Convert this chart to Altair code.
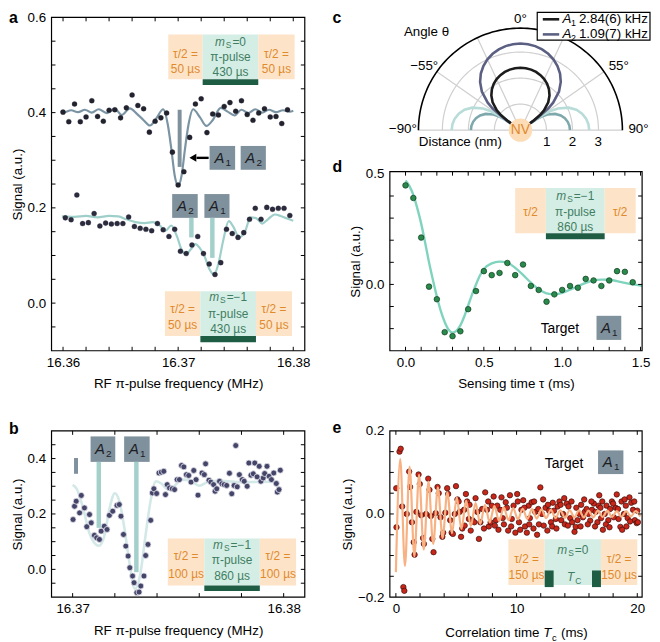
import altair as alt
import pandas as pd

FONT = "Liberation Sans"
AX_FS = 13.5
BOX_FS = 12
ORANGE_TXT = "#e08a2c"
GREEN_TXT = "#3f7d62"
PEACH = "#fde4c9"
MINT = "#d5eee5"
DARKGREEN = "#1f5c44"
BOXGREY = "#7f919d"
STEM = "#a3d0cb"

# ================= data =================
# ---- panel a : two RF spectra ----
A_TOP_F = [16.3600, 16.3605, 16.3610, 16.3615, 16.3620, 16.3625, 16.3630, 16.3635, 16.3640, 16.3645,
           16.3650, 16.3655, 16.3660, 16.3665, 16.3670, 16.3675, 16.3680, 16.3685, 16.3690, 16.3695,
           16.3700, 16.3705, 16.3710, 16.3715, 16.3720, 16.3725, 16.3730, 16.3735, 16.3740, 16.3745,
           16.3750, 16.3755, 16.3760, 16.3765, 16.3770, 16.3775, 16.3780, 16.3785, 16.3790, 16.3795]
A_TOP_V = [0.401, 0.381, 0.418, 0.381, 0.391, 0.425, 0.392, 0.382, 0.405, 0.406,
           0.389, 0.410, 0.437, 0.415, 0.408, 0.359, 0.382, 0.389, 0.399, 0.317,
           0.248, 0.276, 0.348, 0.418, 0.429, 0.358, 0.397, 0.395, 0.413, 0.421,
           0.403, 0.425, 0.396, 0.384, 0.399, 0.408, 0.391, 0.392, 0.377, 0.406]
A_BOT_F = [16.3602, 16.3607, 16.3612, 16.3617, 16.3622, 16.3627, 16.3632, 16.3637, 16.3642, 16.3647,
           16.3652, 16.3657, 16.3662, 16.3667, 16.3672, 16.3677, 16.3682, 16.3687, 16.3692, 16.3697,
           16.3702, 16.3707, 16.3712, 16.3717, 16.3722, 16.3727, 16.3732, 16.3737, 16.3742, 16.3747,
           16.3752, 16.3757, 16.3762, 16.3767, 16.3772, 16.3777, 16.3782, 16.3787, 16.3792, 16.3797]
A_BOT_V = [0.179, 0.175, 0.227, 0.167, 0.169, 0.188, 0.162, 0.168, 0.166, 0.167,
           0.167, 0.181, 0.161, 0.157, 0.155, 0.152, 0.167, 0.154, 0.140, 0.155,
           0.109, 0.104, 0.122, 0.140, 0.104, 0.082, 0.060, 0.085, 0.155, 0.146,
           0.138, 0.148, 0.176, 0.199, 0.176, 0.201, 0.197, 0.199, 0.199, 0.184]
A_TOP_FIT_F = [16.3598, 16.3601, 16.3607, 16.3613, 16.3619, 16.3625, 16.3631, 16.3638, 16.3645, 16.3651,
               16.3658, 16.3664, 16.3670, 16.36755, 16.3681, 16.3687, 16.3691, 16.3694, 16.3697, 16.3700,
               16.3703, 16.3706, 16.3709, 16.3713, 16.3719, 16.37245, 16.3730, 16.3737, 16.3743, 16.3749,
               16.3755, 16.3761, 16.3767, 16.3773, 16.3779, 16.3785, 16.3791, 16.3797, 16.3800]
A_TOP_FIT_V = [0.404, 0.401, 0.405, 0.401, 0.406, 0.400, 0.407, 0.399, 0.408, 0.395,
               0.409, 0.398, 0.384, 0.373, 0.388, 0.407, 0.375, 0.325, 0.268, 0.246,
               0.268, 0.325, 0.375, 0.407, 0.390, 0.372, 0.384, 0.410, 0.402, 0.394,
               0.406, 0.399, 0.407, 0.400, 0.406, 0.401, 0.405, 0.402, 0.404]
A_BOT_FIT_F = [16.3599, 16.3610, 16.3620, 16.3630, 16.3640, 16.3648, 16.3655, 16.3663, 16.3671, 16.3678,
               16.3684, 16.3689, 16.3694, 16.3699, 16.3703, 16.3707, 16.3711, 16.3715, 16.3719, 16.3723,
               16.3727, 16.3731, 16.3735, 16.3739, 16.3744, 16.3748, 16.3753, 16.3758, 16.3763, 16.3768,
               16.3773, 16.3778, 16.3784, 16.3789, 16.3794, 16.3800]
A_BOT_FIT_V = [0.182, 0.181, 0.183, 0.180, 0.183, 0.182, 0.176, 0.170, 0.168, 0.170,
               0.163, 0.152, 0.163, 0.140, 0.112, 0.103, 0.113, 0.124, 0.115, 0.098,
               0.072, 0.060, 0.083, 0.130, 0.172, 0.160, 0.138, 0.150, 0.180, 0.178,
               0.167, 0.176, 0.186, 0.183, 0.178, 0.173]

# ---- panel b : high resolution spectrum ----
B_F = [16.37002, 16.37009, 16.37017, 16.37033, 16.37041, 16.37056, 16.37067, 16.37080, 16.37088, 16.37103,
       16.37114, 16.37127, 16.37135, 16.37150, 16.37163, 16.37174, 16.37190, 16.37210, 16.37221, 16.37229,
       16.37241, 16.37252, 16.37263, 16.37271, 16.37284, 16.37291, 16.37304, 16.37315, 16.37323, 16.37338,
       16.37346, 16.37357, 16.37370, 16.37378, 16.37385, 16.37398, 16.37409, 16.37420, 16.37432, 16.37440,
       16.37448, 16.37459, 16.37472, 16.37483, 16.37495, 16.37506, 16.37516, 16.37527, 16.37539, 16.37550,
       16.37561, 16.37574, 16.37585, 16.37594, 16.37613, 16.37624, 16.37630, 16.37646, 16.37655, 16.37668,
       16.37675, 16.37683, 16.37696, 16.37707, 16.37718, 16.37730, 16.37743, 16.37754, 16.37765, 16.37773,
       16.37780, 16.37790, 16.37804, 16.37813, 16.37827, 16.37835, 16.37845, 16.37856, 16.37863, 16.37874,
       16.37884, 16.37892, 16.37903, 16.37910, 16.37921, 16.37931, 16.37942, 16.37953, 16.37965, 16.37970,
       16.37978, 16.37984]
B_V = [0.180, 0.228, 0.246, 0.204, 0.267, 0.222, 0.154, 0.198, 0.168, 0.123,
       0.114, 0.108, 0.138, 0.156, 0.144, 0.195, 0.210, 0.231, 0.234, 0.192,
       0.126, 0.084, 0.048, 0.006, -0.024, -0.048, -0.084, -0.082, -0.060, -0.024,
       0.050, 0.090, 0.177, 0.276, 0.291, 0.274, 0.348, 0.351, 0.354, 0.270,
       0.306, 0.294, 0.291, 0.288, 0.324, 0.324, 0.375, 0.370, 0.342, 0.339,
       0.315, 0.357, 0.324, 0.268, 0.348, 0.342, 0.381, 0.322, 0.315, 0.306,
       0.282, 0.291, 0.318, 0.309, 0.306, 0.303, 0.347, 0.273, 0.303, 0.447,
       0.298, 0.342, 0.324, 0.318, 0.300, 0.384, 0.340, 0.345, 0.384, 0.334,
       0.372, 0.318, 0.330, 0.346, 0.372, 0.336, 0.324, 0.348, 0.310, 0.279,
       0.288, 0.358]
B_FIT_F = [16.37000, 16.37020, 16.37050, 16.37080, 16.37110, 16.37125, 16.37150, 16.37175, 16.37200, 16.37220,
           16.37245, 16.37270, 16.37295, 16.37320, 16.37345, 16.37370, 16.37395, 16.37420, 16.37450, 16.37480,
           16.37520, 16.37560, 16.37600, 16.37640, 16.37700, 16.37800, 16.37900, 16.37980]
B_FIT_V = [0.305, 0.290, 0.220, 0.130, 0.090, 0.085, 0.120, 0.220, 0.275, 0.250,
           0.150, 0.020, -0.070, -0.020, 0.120, 0.250, 0.318, 0.310, 0.290, 0.300,
           0.324, 0.320, 0.302, 0.315, 0.320, 0.315, 0.316, 0.315]

# ---- panel c : polar coupling maps ----
C_GRID_R = [1, 2, 3]
C_OUTER_R = 3.92
C_SPOKES = [-55, -25, 25, 55]
C_R_A1 = 2.40
C_R_A2 = 3.33
MAIN_ANG = [0, 5, 10, 15, 20, 25, 30, 35, 40, 45, 50, 52, 54, 54.5, 54.7, 54.7356]
MAIN_S = [1.0, 0.9962, 0.9847, 0.9653, 0.9377, 0.9013, 0.8550, 0.7972, 0.7245, 0.6300,
          0.4929, 0.4093, 0.2632, 0.1798, 0.0961, 0.0]
SIDE_ANG = [54.7356, 55, 56, 58, 60, 65, 70, 75, 80, 85, 90]
SIDE_S = [0.0, 0.1867, 0.3140, 0.4286, 0.5, 0.6145, 0.6870, 0.7366, 0.7691, 0.7877, 0.7937]

# ---- panel d : Ramsey-type oscillation ----
D_T = [0.00, 0.05, 0.10, 0.15, 0.20, 0.25, 0.30, 0.35, 0.40, 0.45,
       0.50, 0.55, 0.60, 0.65, 0.70, 0.75, 0.80, 0.85, 0.90, 0.95,
       1.00, 1.05, 1.10, 1.15, 1.20, 1.25, 1.30, 1.35, 1.40, 1.45]
D_V = [0.448, 0.391, 0.212, -0.010, -0.067, -0.216, -0.234, -0.212, -0.112, -0.030,
       0.060, 0.042, 0.052, 0.097, 0.042, 0.090, -0.007, -0.025, -0.078, -0.045,
       -0.025, -0.007, -0.015, 0.025, 0.018, -0.007, 0.018, 0.060, 0.057, 0.010]
D_FIT_T = [0.00, 0.025, 0.05, 0.075, 0.10, 0.125, 0.15, 0.175, 0.20, 0.225,
           0.25, 0.275, 0.30, 0.325, 0.35, 0.375, 0.40, 0.425, 0.45, 0.475,
           0.50, 0.55, 0.60, 0.65, 0.70, 0.75, 0.80, 0.85, 0.90, 0.95,
           1.00, 1.05, 1.10, 1.15, 1.20, 1.25, 1.30, 1.35, 1.40, 1.45, 1.51]
D_FIT_V = [0.47, 0.445, 0.405, 0.345, 0.275, 0.19, 0.10, 0.02, -0.055, -0.12,
           -0.17, -0.205, -0.218, -0.21, -0.185, -0.145, -0.095, -0.045, 0.0, 0.04,
           0.07, 0.095, 0.103, 0.098, 0.075, 0.043, 0.008, -0.022, -0.040, -0.045,
           -0.038, -0.024, -0.008, 0.007, 0.018, 0.022, 0.021, 0.015, 0.007, 0.0, -0.006]

# ---- panel e : correlation signal ----
E_T = [0.03, 0.05, 0.30, 0.40, 0.52, 0.62, 0.70, 0.90, 1.10, 1.18,
       1.33, 1.48, 1.55, 1.70, 1.88, 1.98, 2.10, 2.25, 2.32, 2.50,
       2.68, 2.78, 2.90, 3.02, 3.12, 3.30, 3.45, 3.55, 3.70, 3.85,
       3.92, 4.10, 4.25, 4.33, 4.50, 4.62, 4.72, 4.88, 4.98, 5.10,
       5.28, 5.40, 5.50, 5.65, 5.80, 5.90, 6.05, 6.20, 6.35, 6.60,
       6.75, 6.88, 7.00, 7.15, 7.40, 7.55, 7.70, 7.85, 7.95, 8.10,
       8.30, 8.50, 8.65, 8.75, 8.95, 9.10, 9.30, 9.45, 9.60, 9.75,
       9.90, 10.05, 10.20, 10.40, 10.55, 10.70, 10.85, 11.00, 11.10, 11.25,
       11.40, 11.55, 11.70, 11.85, 11.97, 12.10, 12.25, 12.40, 12.55, 12.70,
       12.85, 13.00, 13.10, 13.25, 13.40, 13.55, 13.70, 13.85, 14.00, 14.15,
       14.30, 14.45, 14.60, 14.80, 14.90, 15.05, 15.20, 15.35, 15.50, 15.65,
       15.80, 15.95, 16.10, 16.25, 16.40, 16.55, 16.70, 16.85, 17.00, 17.15,
       17.30, 17.45, 17.60, 17.75, 17.90, 18.05, 18.20, 18.30, 18.45, 18.60,
       18.75, 18.90, 19.05, 19.20, 19.35, 19.50, 19.65, 19.80, 19.95, 20.00,
       5.20, 5.70, 6.10, 6.50, 7.30, 7.65, 8.20, 8.40, 8.85, 9.20,
       9.55, 10.10, 10.30, 10.65, 11.05, 11.45, 11.80, 12.20, 12.60, 12.95,
       13.30, 13.65, 13.95, 14.25, 14.55, 14.95, 15.30, 15.60, 15.90, 16.20,
       16.50, 16.80, 17.10, 17.40, 17.70, 18.00, 18.40, 18.70, 19.10, 19.40,
       19.75, 20.05, 18.95, 16.95]
E_V = [0.062, -0.032, 0.150, 0.157, 0.018, -0.176, -0.185, 0.000, 0.102, 0.065,
       -0.020, -0.068, -0.098, 0.005, 0.095, 0.072, -0.003, -0.058, -0.072, 0.000,
       0.085, 0.058, -0.005, -0.060, -0.092, 0.002, 0.065, 0.050, -0.008, -0.055,
       -0.045, 0.003, 0.062, 0.048, -0.015, -0.045, -0.048, 0.000, 0.067, 0.035,
       0.005, -0.055, -0.035, 0.010, 0.048, 0.030, -0.012, -0.040, -0.015, 0.038,
       0.005, -0.060, -0.020, 0.012, 0.052, 0.010, -0.030, -0.020, 0.020, 0.042,
       -0.015, -0.038, 0.010, 0.040, -0.025, 0.028, -0.040, 0.045, -0.012, 0.020,
       -0.045, 0.048, -0.020, 0.010, 0.033, -0.030, -0.045, 0.020, -0.010, 0.028,
       -0.035, 0.005, -0.050, -0.025, 0.064, 0.000, -0.028, 0.015, -0.040, 0.008,
       -0.020, 0.027, 0.008, -0.012, 0.018, 0.030, -0.015, 0.000, -0.025, 0.025,
       0.018, -0.010, -0.020, -0.043, -0.031, -0.015, 0.000, 0.022, -0.008, 0.005,
       0.012, 0.000, -0.016, 0.010, 0.025, 0.005, -0.020, 0.045, -0.010, -0.038,
       0.000, 0.020, -0.015, 0.012, 0.030, -0.008, 0.015, 0.047, -0.012, -0.031,
       -0.038, 0.000, 0.020, -0.010, 0.040, 0.027, 0.010, -0.015, -0.022, 0.008,
       0.030, -0.028, 0.022, -0.020, -0.035, 0.030, -0.028, 0.020, -0.010, 0.015,
       -0.030, 0.030, -0.038, 0.015, -0.025, 0.030, 0.012, 0.035, 0.022, -0.030,
       -0.035, 0.022, 0.038, -0.028, 0.030, 0.015, -0.030, 0.035, -0.025, 0.030,
       -0.030, 0.020, 0.030, -0.025, -0.032, 0.025, 0.012, 0.030, -0.030, -0.018,
       0.030, -0.020, 0.035, 0.015]
E_FIT_T = [0.0, 0.36, 0.75, 1.14, 1.53, 1.92, 2.31, 2.70, 3.09, 3.48,
           3.87, 4.26, 4.65, 5.04, 5.43, 5.82, 6.21, 6.60, 6.99, 7.38,
           7.77, 8.16, 8.55, 8.94, 9.33, 9.72, 10.11, 10.50, 10.89, 11.28,
           11.67, 12.06, 12.45, 12.84, 13.23, 13.62, 14.01, 14.40, 14.79, 15.18,
           15.57, 15.96, 16.35, 16.74, 17.13, 17.52, 17.91, 18.30, 18.69, 19.08,
           19.47, 19.86, 20.25]
E_FIT_V = [-0.140, 0.132, -0.125, 0.114, -0.102, 0.094, -0.086, 0.078, -0.072, 0.064,
           -0.058, 0.052, -0.046, 0.040, -0.036, 0.032, -0.029, 0.026, -0.024, 0.022,
           -0.020, 0.019, -0.017, 0.016, -0.015, 0.014, -0.013, 0.013, -0.012, 0.012,
           -0.011, 0.011, -0.010, 0.010, -0.010, 0.009, -0.009, 0.009, -0.008, 0.009,
           -0.008, 0.008, -0.008, 0.008, -0.007, 0.008, -0.007, 0.007, -0.007, 0.007,
           -0.006, 0.007, -0.006]

# ================= helpers =================
AXIS_OF = {}   # id(scale) -> axis spec, so every layer of a panel carries the same axis


def one():
    return pd.DataFrame({"k": [0]})


def XQ(s, f="x"):
    return alt.X(f, type="quantitative", scale=s, axis=AXIS_OF.get(id(s)))


def YQ(s, f="y"):
    return alt.Y(f, type="quantitative", scale=s, axis=AXIS_OF.get(id(s)))


def axis(values, fmt, title, is_x):
    kw = dict(values=values, format=fmt, title=title, domain=False, ticks=False, tickSize=0,
              grid=False, labelFontSize=AX_FS, titleFontSize=AX_FS, labelFont=FONT, titleFont=FONT,
              titleFontWeight="normal", labelColor="black", titleColor="black", labelFlush=False)
    if is_x:
        kw.update(labelPadding=5, titlePadding=8)
    else:
        kw.update(labelPadding=6, titlePadding=3)
    return alt.Axis(**kw)


def line(xv, yv, xs, ys, color, width=2.2, interp="monotone"):
    df = pd.DataFrame({"x": xv, "y": yv})
    return alt.Chart(df).mark_line(color=color, strokeWidth=width, interpolate=interp).encode(
        x=XQ(xs), y=YQ(ys))


def dots(xv, yv, xs, ys, fill, stroke, size, sw):
    df = pd.DataFrame({"x": xv, "y": yv})
    return alt.Chart(df).mark_circle(size=size, fill=fill, stroke=stroke, strokeWidth=sw, opacity=1).encode(
        x=XQ(xs), y=YQ(ys))


def texts(rows, xs, ys, size=BOX_FS, color="black", style="normal", weight="normal",
          align="center", baseline="middle", dx=0, dy=0):
    df = pd.DataFrame(rows, columns=["x", "y", "t"])
    return alt.Chart(df).mark_text(font=FONT, fontSize=size, color=color, fontStyle=style,
                                   fontWeight=weight, align=align, baseline=baseline,
                                   dx=dx, dy=dy).encode(x=XQ(xs), y=YQ(ys), text="t:N")


def rects(rows, xs, ys):
    df = pd.DataFrame(rows, columns=["x", "x2", "y", "y2", "c"])
    return alt.Chart(df).mark_rect().encode(x=XQ(xs), x2="x2:Q", y=YQ(ys), y2="y2:Q",
                                            color=alt.Color("c:N", scale=None))


def vrule(x, y1, y2, xs, ys, color, w):
    df = pd.DataFrame({"x": [x], "y": [y1], "y2": [y2]})
    return alt.Chart(df).mark_rule(color=color, strokeWidth=w).encode(x=XQ(xs), y=YQ(ys), y2="y2:Q")


def hrule(x1, x2, y, xs, ys, color, w):
    df = pd.DataFrame({"x": [x1], "x2": [x2], "y": [y]})
    return alt.Chart(df).mark_rule(color=color, strokeWidth=w).encode(x=XQ(xs), x2="x2:Q", y=YQ(ys))


def ticks(xt, yt, xs, ys, w, h, L=4):
    dx = pd.DataFrame({"x": xt})
    dy = pd.DataFrame({"y": yt})
    r = dict(color="black", strokeWidth=1)
    return [
        alt.Chart(dx).mark_rule(**r).encode(x=XQ(xs), y=alt.value(h), y2=alt.value(h - L)),
        alt.Chart(dx).mark_rule(**r).encode(x=XQ(xs), y=alt.value(0), y2=alt.value(L)),
        alt.Chart(dy).mark_rule(**r).encode(y=YQ(ys), x=alt.value(0), x2=alt.value(L)),
        alt.Chart(dy).mark_rule(**r).encode(y=YQ(ys), x=alt.value(w - L), x2=alt.value(w)),
    ]


def frame(w, h):
    return alt.Chart(one()).mark_rect(fill="white", fillOpacity=0, stroke="black", strokeWidth=1.2).encode(
        x=alt.value(0), x2=alt.value(w), y=alt.value(0), y2=alt.value(h))


def letter(t, x, y):
    return alt.Chart(one()).mark_text(text=t, font=FONT, fontSize=16, fontWeight="bold",
                                      align="left", baseline="alphabetic").encode(
        x=alt.value(x), y=alt.value(y))


W_CH = {"m": 0.833, "=": 0.584, "0": 0.556, "1": 0.556, "−": 0.584}


def ms(x, y, rest, xs, ys):
    wm = 0.833 * BOX_FS + 1
    wsub = 0.667 * 8.5 + 1
    wr = sum(W_CH[ch] for ch in rest) * BOX_FS
    start = -(wm + wsub + wr) / 2
    return [texts([(x, y, "m")], xs, ys, color=GREEN_TXT, style="italic", align="left", dx=start),
            texts([(x, y, "S")], xs, ys, size=8.5, color=GREEN_TXT, align="left", dx=start + wm, dy=3),
            texts([(x, y, rest)], xs, ys, color=GREEN_TXT, align="left", dx=start + wm + wsub)]


def abox(x1, x2, y1, y2, digit, xs, ys):
    cx = (x1 + x2) / 2
    cy = (y1 + y2) / 2
    return [rects([(x1, x2, y1, y2, BOXGREY)], xs, ys),
            texts([(cx, cy, "A")], xs, ys, size=15, color="#1d1d24", style="italic", dx=-3),
            texts([(cx, cy, digit)], xs, ys, size=10, color="#1d1d24", dx=6, dy=5)]


def diagram(xs, ys, xl, xm1, xm2, xr, ytop, ybot, extra, peach_lines, ms_y, ms_rest, mint_lines):
    layers = [rects([(xl, xm1, ybot, ytop, PEACH), (xm1, xm2, ybot, ytop, MINT),
                     (xm2, xr, ybot, ytop, PEACH)], xs, ys)]
    if extra:
        layers.append(rects(extra, xs, ys))
    pl = (xl + xm1) / 2
    pr = (xm2 + xr) / 2
    pm = (xm1 + xm2) / 2
    for t, y in peach_lines:
        layers.append(texts([(pl, y, t), (pr, y, t)], xs, ys, color=ORANGE_TXT))
    layers += ms(pm, ms_y, ms_rest, xs, ys)
    for t, y in mint_lines:
        layers.append(texts([(pm, y, t)], xs, ys, color=GREEN_TXT))
    return layers


# ================= panel a =================
WA, HA = 256, 337
XS_A = alt.Scale(domain=[16.359, 16.381], nice=False, zero=False)
YS_A = alt.Scale(domain=[-0.1, 0.6], nice=False, zero=False)
AXIS_OF[id(XS_A)] = axis([16.36, 16.37, 16.38], ".2f", "RF π-pulse frequency (MHz)", True)
AXIS_OF[id(YS_A)] = axis([0.0, 0.2, 0.4, 0.6], ".1f", "Signal (a.u.)", False)
la = []
la += diagram(XS_A, YS_A, 16.36914, 16.37213, 16.37696, 16.38012, 0.564, 0.470,
              [(16.37213, 16.37696, 0.458, 0.470, DARKGREEN)],
              [("τ/2 =", 0.524), ("50 µs", 0.492)], 0.549, "=0",
              [("π-pulse", 0.516), ("430 µs", 0.485)])
la += diagram(XS_A, YS_A, 16.36885, 16.37193, 16.37676, 16.37989, 0.025, -0.069,
              [(16.37193, 16.37676, -0.082, -0.069, DARKGREEN)],
              [("τ/2 =", -0.013), ("50 µs", -0.047)], 0.012, "=−1",
              [("π-pulse", -0.022), ("430 µs", -0.054)])
la.append(line(A_TOP_FIT_F, A_TOP_FIT_V, XS_A, YS_A, "#7b94a4", 2.2))
la.append(line(A_BOT_FIT_F, A_BOT_FIT_V, XS_A, YS_A, "#9fcfca", 2.2))
la.append(vrule(16.37013, 0.286, 0.406, XS_A, YS_A, BOXGREY, 4))
la.append(hrule(16.3716, 16.37265, 0.305, XS_A, YS_A, "black", 2.4))
la.append(alt.Chart(pd.DataFrame({"x": [16.37128], "y": [0.305]})).mark_point(
    shape="triangle-left", filled=True, color="black", size=65, opacity=1).encode(x=XQ(XS_A), y=YQ(YS_A)))
la += abox(16.37273, 16.37495, 0.280, 0.330, "1", XS_A, YS_A)
la += abox(16.37543, 16.37762, 0.280, 0.330, "2", XS_A, YS_A)
la += abox(16.36948, 16.37170, 0.179, 0.229, "2", XS_A, YS_A)
la += abox(16.37228, 16.37446, 0.179, 0.229, "1", XS_A, YS_A)
la.append(vrule(16.37115, 0.179, 0.138, XS_A, YS_A, STEM, 4.5))
la.append(vrule(16.37297, 0.179, 0.095, XS_A, YS_A, STEM, 4.5))
la.append(dots(A_TOP_F, A_TOP_V, XS_A, YS_A, "#23232f", "#23232f", 26, 0.3))
la.append(dots(A_BOT_F, A_BOT_V, XS_A, YS_A, "#2b2b3d", "#2b2b3d", 26, 0.3))
la += ticks([16.360, 16.362, 16.364, 16.366, 16.368, 16.370, 16.372, 16.374, 16.376, 16.378, 16.380],
            [-0.05, 0.0, 0.05, 0.1, 0.15, 0.2, 0.25, 0.3, 0.35, 0.4, 0.45, 0.5, 0.55],
            XS_A, YS_A, WA, HA)
la.append(frame(WA, HA))
la.append(letter("a", -43, 6))
panel_a = alt.layer(*la).properties(width=WA, height=HA)

# ================= panel b =================
WB, HB = 256, 168
XS_B = alt.Scale(domain=[16.369, 16.381], nice=False, zero=False)
YS_B = alt.Scale(domain=[-0.1, 0.5], nice=False, zero=False)
AXIS_OF[id(XS_B)] = axis([16.37, 16.38], ".2f", "RF π-pulse frequency (MHz)", True)
AXIS_OF[id(YS_B)] = axis([0.0, 0.2, 0.4], ".1f", "Signal (a.u.)", False)
lb = []
lb += diagram(XS_B, YS_B, 16.37451, 16.37624, 16.37887, 16.38059, 0.111, -0.058,
              [(16.37624, 16.37887, -0.078, -0.058, DARKGREEN)],
              [("τ/2 =", 0.048), ("100 µs", -0.018)], 0.087, "=−1",
              [("π-pulse", 0.032), ("860 µs", -0.025)])
lb.append(line(B_FIT_F, B_FIT_V, XS_B, YS_B, "#d2e9e7", 2.6))
lb.append(vrule(16.37016, 0.345, 0.402, XS_B, YS_B, BOXGREY, 4))
lb += abox(16.37085, 16.37202, 0.388, 0.480, "2", XS_B, YS_B)
lb += abox(16.37244, 16.37365, 0.388, 0.480, "1", XS_B, YS_B)
lb.append(vrule(16.37124, 0.388, 0.150, XS_B, YS_B, STEM, 4.5))
lb.append(vrule(16.37302, 0.388, -0.010, XS_B, YS_B, STEM, 4.5))
lb.append(dots(B_F, B_V, XS_B, YS_B, "#45456a", "#e4e4ee", 36, 0.8))
lb += ticks([16.370, 16.372, 16.374, 16.376, 16.378, 16.380],
            [-0.05, 0.0, 0.05, 0.1, 0.15, 0.2, 0.25, 0.3, 0.35, 0.4, 0.45],
            XS_B, YS_B, WB, HB)
lb.append(frame(WB, HB))
lb.append(letter("b", -43, 3))
panel_b = alt.layer(*lb).properties(width=WB, height=HB)

# ================= panel c =================
WC, HC = 256, 75
XS_C = alt.Scale(domain=[-5.019, 4.715], nice=False, zero=False)
YS_C = alt.Scale(domain=[1.4829, 4.3346], nice=False, zero=False)
AXIS_OF[id(XS_C)] = None
AXIS_OF[id(YS_C)] = None

grid_rows = []
for r in C_GRID_R:
    for i, a in enumerate(range(-90, 91, 2)):
        grid_rows.append({"g": f"r{r}", "i": i, "a": a, "r": r})
for s in C_SPOKES:
    grid_rows.append({"g": f"s{s}", "i": 0, "a": s, "r": 0.0})
    grid_rows.append({"g": f"s{s}", "i": 1, "a": s, "r": C_OUTER_R})
grid_rows.append({"g": "base", "i": 0, "a": -90, "r": C_OUTER_R})
grid_rows.append({"g": "base", "i": 1, "a": 90, "r": C_OUTER_R})
outer_rows = [{"g": "outer", "i": i, "a": a, "r": C_OUTER_R} for i, a in enumerate(range(-90, 91, 2))]

lobe_rows = []


def add_path(g, angs, shapes, R, color):
    for i, (a, s) in enumerate(zip(angs, shapes)):
        lobe_rows.append({"g": g, "i": i, "a": a, "r": R * s, "c": color})


main_angs = [-a for a in reversed(MAIN_ANG)] + MAIN_ANG[1:]
main_s = list(reversed(MAIN_S)) + MAIN_S[1:]
add_path("s1r", SIDE_ANG, SIDE_S, C_R_A1, "#7fa8ac")
add_path("s1l", [-a for a in SIDE_ANG], SIDE_S, C_R_A1, "#7fa8ac")
add_path("s2r", SIDE_ANG, SIDE_S, C_R_A2, "#b8dcd8")
add_path("s2l", [-a for a in SIDE_ANG], SIDE_S, C_R_A2, "#b8dcd8")
add_path("m2", main_angs, main_s, C_R_A2, "#5b6083")
add_path("m1", main_angs, main_s, C_R_A1, "#1c1c1c")

POLAR_X = "datum.r*sin(datum.a*PI/180)"
POLAR_Y = "datum.r*cos(datum.a*PI/180)"


def polar_lines(rows, color, width, colored=False):
    ch = alt.Chart(pd.DataFrame(rows)).transform_calculate(px=POLAR_X, py=POLAR_Y)
    enc = dict(x=XQ(XS_C, "px"), y=YQ(YS_C, "py"), detail="g:N", order=alt.Order("i:Q"))
    if colored:
        enc["color"] = alt.Color("c:N", scale=None)
        return ch.mark_line(strokeWidth=width).encode(**enc)
    return ch.mark_line(color=color, strokeWidth=width).encode(**enc)


lc = []
lc.append(polar_lines(grid_rows, "#cfcfcf", 1.2))
lc.append(polar_lines(outer_rows, "black", 1.6))
lc.append(polar_lines(lobe_rows, "black", 2.6, colored=True))
lc.append(alt.Chart(pd.DataFrame({"x": [0.0], "y": [0.0]})).mark_circle(
    size=560, color="#fddcb8", opacity=1).encode(x=XQ(XS_C), y=YQ(YS_C)))
lc.append(texts([(0.0, 0.0, "NV")], XS_C, YS_C, size=14, color=ORANGE_TXT))
lc.append(texts([(0.0, 4.26, "0°"), (-3.70, 2.47, "−55°"), (3.78, 2.47, "55°"),
                 (-4.52, 0.04, "−90°"), (4.54, 0.04, "90°"), (-2.31, -0.47, "Distance (nm)"),
                 (1.01, -0.47, "1"), (2.0, -0.47, "2"), (2.99, -0.47, "3"), (-3.61, 3.78, "Angle θ")],
                XS_C, YS_C, size=AX_FS))
leg_df = pd.DataFrame({"x": [0.646], "x2": [4.98], "y": [3.46], "y2": [4.525]})
lc.append(alt.Chart(leg_df).mark_rect(fill="white", stroke="black", strokeWidth=1.2).encode(
    x=XQ(XS_C), x2="x2:Q", y=YQ(YS_C), y2="y2:Q"))
lc.append(hrule(0.86, 1.49, 4.26, XS_C, YS_C, "#1c1c1c", 2.6))
lc.append(hrule(0.86, 1.49, 3.68, XS_C, YS_C, "#5b6083", 2.6))
lc.append(texts([(1.62, 4.26, "A"), (1.62, 3.68, "A")], XS_C, YS_C, size=AX_FS, style="italic", align="left"))
lc.append(texts([(1.62, 4.26, "1"), (1.62, 3.68, "2")], XS_C, YS_C, size=9, align="left", dx=8.5, dy=4))
lc.append(texts([(1.62, 4.26, "2.84(6) kHz"), (1.62, 3.68, "1.09(7) kHz")], XS_C, YS_C, size=AX_FS,
                align="left", dx=16.5))
lc.append(letter("c", -58, 6))
panel_c = alt.layer(*lc).properties(width=WC, height=HC)

# ================= panel d =================
WD, HD = 255, 181
XS_D = alt.Scale(domain=[-0.1, 1.51], nice=False, zero=False)
YS_D = alt.Scale(domain=[-0.3, 0.51], nice=False, zero=False)
AXIS_OF[id(XS_D)] = axis([0.0, 0.5, 1.0, 1.5], ".1f", "Sensing time τ (ms)", True)
AXIS_OF[id(YS_D)] = axis([0.0, 0.5], ".1f", "Signal (a.u.)", False)
ld = []
ld += diagram(XS_D, YS_D, 0.700, 0.896, 1.271, 1.469, 0.436, 0.231,
              [(0.896, 1.271, 0.204, 0.231, DARKGREEN)],
              [("τ/2", 0.328)], 0.398, "=−1",
              [("π-pulse", 0.328), ("860 µs", 0.259)])
ld.append(line(D_FIT_T, D_FIT_V, XS_D, YS_D, "#80d4be", 2.4))
ld.append(dots(D_T, D_V, XS_D, YS_D, "#2a8a4c", "#0f3a1f", 32, 0.7))
ld.append(texts([(0.985, -0.204, "Target")], XS_D, YS_D, size=14))
ld += abox(1.219, 1.377, -0.251, -0.142, "1", XS_D, YS_D)
ld += ticks([0.0, 0.1, 0.2, 0.3, 0.4, 0.5, 0.6, 0.7, 0.8, 0.9, 1.0, 1.1, 1.2, 1.3, 1.4, 1.5],
            [-0.2, -0.1, 0.0, 0.1, 0.2, 0.3, 0.4],
            XS_D, YS_D, WD, HD)
ld.append(frame(WD, HD))
ld.append(letter("d", -58, 0))
panel_d = alt.layer(*ld).properties(width=WD, height=HD)

# ================= panel e =================
WE, HE = 255, 168
XS_E = alt.Scale(domain=[-0.5, 20.4], nice=False, zero=False)
YS_E = alt.Scale(domain=[-0.2, 0.2], nice=False, zero=False)
AXIS_OF[id(XS_E)] = axis([0, 10, 20], "d", "", True)
AXIS_OF[id(YS_E)] = axis([-0.2, 0.0, 0.2], ".1f", "Signal (a.u.)", False)
le = []
le += diagram(XS_E, YS_E, 9.32, 12.33, 16.99, 20.0, -0.061, -0.171,
              [(12.33, 13.07, -0.176, -0.136, DARKGREEN), (16.25, 16.99, -0.176, -0.136, DARKGREEN)],
              [("τ/2 =", -0.108), ("150 µs", -0.147)], -0.088, "=0", [])
le.append(texts([(14.66, -0.151, "T")], XS_E, YS_E, color=GREEN_TXT, style="italic", align="left", dx=-6))
le.append(texts([(14.66, -0.151, "C")], XS_E, YS_E, size=8.5, color=GREEN_TXT, align="left", dx=2.5, dy=4))
le.append(dots(E_T, E_V, XS_E, YS_E, "#c9261a", "#3a0f0a", 30, 0.7))
le.append(line(E_FIT_T, E_FIT_V, XS_E, YS_E, "#f8b183", 2.2))
le.append(texts([(13.93, 0.12, "Target")], XS_E, YS_E, size=14))
le += abox(16.75, 18.85, 0.096, 0.153, "1", XS_E, YS_E)
le += ticks([0, 2, 4, 6, 8, 10, 12, 14, 16, 18, 20],
            [-0.15, -0.1, -0.05, 0.0, 0.05, 0.1, 0.15],
            XS_E, YS_E, WE, HE)
le.append(frame(WE, HE))
le.append(letter("e", -58, 2))
# composed x-axis title "Correlation time T_c (ms)"
for t, x, dy, size, style in [("Correlation time", 56, 0, AX_FS, "normal"),
                              ("T", 155, 0, AX_FS, "italic"),
                              ("c", 164, 4, 9.5, "normal"),
                              ("(ms)", 173, 0, AX_FS, "normal")]:
    le.append(alt.Chart(one()).mark_text(text=t, font=FONT, fontSize=size, fontStyle=style,
                                         align="left", baseline="alphabetic", dy=dy).encode(
        x=alt.value(x), y=alt.value(208)))
panel_e = alt.layer(*le).properties(width=WE, height=HE)

# ================= composition =================
left = alt.vconcat(panel_a, panel_b, spacing=81, bounds="flush")
right = alt.vconcat(panel_c, panel_d, panel_e, spacing=81, bounds="flush")
chart = alt.hconcat(left, right, spacing=21, bounds="full").properties(
    padding={"left": 0, "top": -2, "right": 0, "bottom": 0})
chart = chart.configure(font=FONT).configure_view(stroke="transparent")

chart.save("out.html", embed_options={"renderer": "svg", "actions": False})
